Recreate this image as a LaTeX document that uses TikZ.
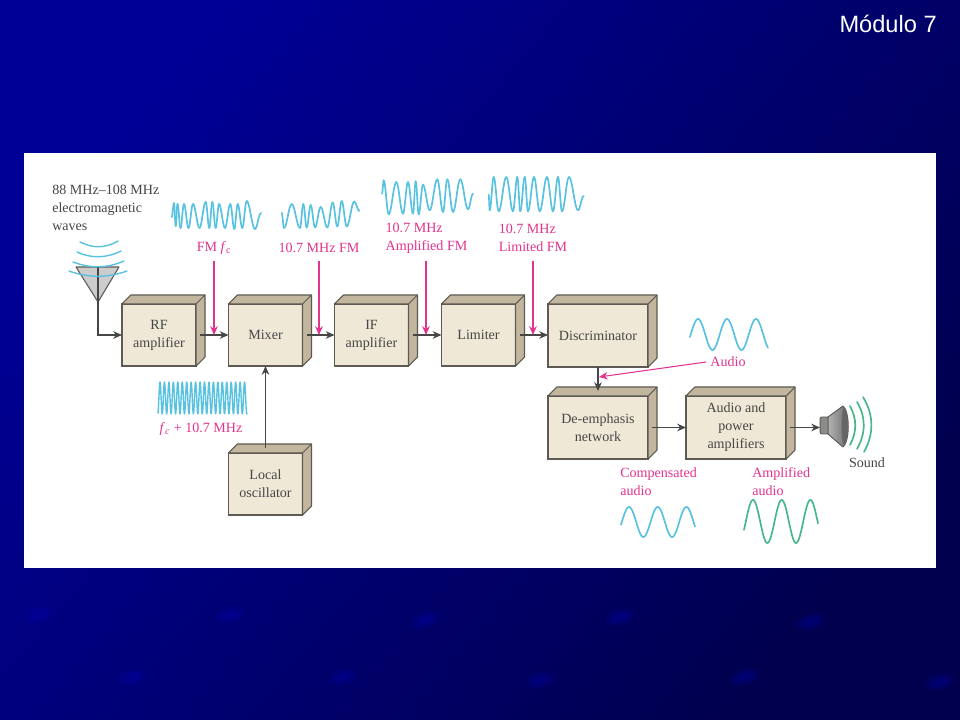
\documentclass[tikz,border=0pt]{standalone}
\usepackage{fontspec}
\setmainfont{Liberation Serif}
\newfontfamily\titlefont{Liberation Sans}
\usetikzlibrary{arrows.meta}

\definecolor{slideleft}{RGB}{0,0,150}
\definecolor{slidemid}{RGB}{0,0,135}
\definecolor{slideright}{RGB}{0,0,78}
\definecolor{blobblue}{RGB}{0,0,190}
\definecolor{blockfront}{RGB}{239,232,214}
\definecolor{blockface}{RGB}{194,182,158}
\definecolor{blockedge}{RGB}{92,90,82}
\definecolor{inkgray}{RGB}{70,70,70}
\definecolor{labelpink}{RGB}{226,52,142}
\definecolor{wavecyan}{RGB}{88,194,224}
\definecolor{wavegreen}{RGB}{72,184,140}

\tikzset{
    block/.style={draw=blockedge,fill=blockfront,line width=0.75pt,text=inkgray,align=center,
        outer sep=0pt,inner sep=0pt,minimum width=1.85cm,minimum height=1.55cm,
        font=\fontsize{10}{12.8}\selectfont},
    wideblock/.style={block,minimum width=2.5cm,minimum height=1.575cm},
    blockdepth/.style={draw=blockedge,fill=blockface,line width=0.75pt,line join=round},
    sigline/.style={draw=inkgray,line width=0.75pt,-{Stealth[length=2.2mm,width=1.9mm]}},
    pinkline/.style={draw=labelpink,line width=0.75pt,-{Stealth[length=2.2mm,width=1.9mm]}},
    pinklabel/.style={text=labelpink,align=left,inner sep=0pt,font=\fontsize{10}{12.8}\selectfont},
    graylabel/.style={text=inkgray,align=left,inner sep=0pt,font=\fontsize{10}{12.8}\selectfont},
    cyanwave/.style={draw=wavecyan,line width=1.2pt,line join=round,line cap=round},
    greenwave/.style={draw=wavegreen,line width=1.2pt,line join=round,line cap=round}
}

% top and side faces of a block
\newcommand{\blockfaces}[1]{
    \draw[blockdepth] (#1.north west) -- ++(9,-9) -- ([shift={(9,-9)}]#1.north east)
        -- ([shift={(9,-9)}]#1.south east) -- (#1.south east) -- (#1.north east) -- cycle;
    \draw[blockdepth] (#1.north east) -- ([shift={(9,-9)}]#1.north east);
}
% style, x0, x1, centre, amplitude, first peak, period
\newcommand{\tonewave}[7]{
    \draw[#1] plot[domain=#2:#3,samples=320]
        (\x,{#4-#5*cos(360/#7*(\x-#6))});
}
% start x, start y, list of peaks and troughs
\newcommand{\peakwave}[3]{
    \foreach \xb/\yb [remember=\xb as \xa (initially #1),remember=\yb as \ya (initially #2)] in {#3}
        \draw[cyanwave] (\xa,\ya) .. controls ({\xa+0.37*(\xb-\xa)},\ya) and ({\xb-0.37*(\xb-\xa)},\yb) .. (\xb,\yb);
}

\begin{document}
\begin{tikzpicture}[x=0.025cm,y=-0.025cm]
    \useasboundingbox (0,0) rectangle (960,720);

    % slide background
    \shade[left color=slideleft,middle color=slidemid,right color=slideright,shading angle=50] (0,0) rectangle (960,720);
    \foreach \blobx/\bloby in {40/615,230/615,425/620,620/617,810/622,133/677,343/677,540/680,745/677,940/682} {
        \fill[blobblue,opacity=0.12,rotate around={15:(\blobx,\bloby)}] (\blobx,\bloby) ellipse (15 and 8);
        \fill[blobblue,opacity=0.12,rotate around={15:(\blobx,\bloby)}] (\blobx,\bloby) ellipse (11 and 5.5);
        \fill[blobblue,opacity=0.12,rotate around={15:(\blobx,\bloby)}] (\blobx,\bloby) ellipse (7 and 3.5);
    }
    \fill[white] (24,153) rectangle (936,568);
    \node[text=white,anchor=east,inner sep=0pt,font=\titlefont\fontsize{16.8}{20}\selectfont] (title) at (937,24) {Módulo 7};

    % blocks
    \node[block] (rf) at (159,335) {RF\\amplifier};
    \node[block] (mixer) at (265.5,335) {Mixer};
    \node[block] (ifamp) at (371.5,335) {IF\\amplifier};
    \node[block] (limiter) at (478.5,335) {Limiter};
    \node[wideblock] (disc) at (598,335.5) {Discriminator};
    \node[wideblock] (deemph) at (598,427.5) {De-emphasis\\network};
    \node[wideblock] (audio) at (736,427.5) {Audio and\\power\\amplifiers};
    \node[block] (local) at (265.5,484) {Local\\oscillator};
    \blockfaces{rf}
    \blockfaces{mixer}
    \blockfaces{ifamp}
    \blockfaces{limiter}
    \blockfaces{disc}
    \blockfaces{deemph}
    \blockfaces{audio}
    \blockfaces{local}

    % antenna
    \coordinate (apex) at (98,302);
    \coordinate (mast) at (98,267);
    \draw[blockedge,fill=black!20,line width=0.75pt,line join=round] (76,267) -- (119,267) -- (apex) -- cycle;
    \draw[inkgray,line width=0.75pt] (mast) -- (apex);
    \draw[cyanwave,line width=1pt] (80,242) .. controls (93,248.5) and (105,248.5) .. (118,241);
    \draw[cyanwave,line width=1pt] (77,252) .. controls (91,258.5) and (106,258.5) .. (121,251);
    \draw[cyanwave,line width=1pt] (73,262) .. controls (90,268.5) and (107,268.5) .. (124,261);
    \draw[cyanwave,line width=1pt] (69,271) .. controls (88,278) and (108,278) .. (127,271);
    \node[graylabel,anchor=west] (waves) at (52,208) {88 MHz--108 MHz\\electromagnetic\\waves};

    % chain
    \draw[sigline] (apex) |- (rf.west);
    \draw[sigline] ([xshift=0.1cm]rf.east) -- (mixer.west);
    \draw[sigline] ([xshift=0.1cm]mixer.east) -- (ifamp.west);
    \draw[sigline] ([xshift=0.1cm]ifamp.east) -- (limiter.west);
    \draw[sigline] ([xshift=0.1cm]limiter.east) -- (limiter.east -| disc.west);
    \draw[sigline] (disc.south) -- ([yshift=0.125cm]deemph.north);
    \draw[sigline] ([xshift=0.1cm]deemph.east) -- (audio.west);
    \draw[sigline] ([yshift=0.125cm]local.north) -- (mixer.south);

    % signal labels
    \node[pinklabel] (fmfc) at (214,248) {FM \textit{f}\textsubscript{c}};
    \node[pinklabel] (fmten) at (319,248) {10.7 MHz FM};
    \node[pinklabel] (fmamp) at (426.5,238) {10.7 MHz\\Amplified FM};
    \node[pinklabel] (fmlim) at (533,238) {10.7 MHz\\Limited FM};
    \node[pinklabel] (lo) at (201,429) {\textit{f}\textsubscript{\textit{c}} + 10.7 MHz};
    \node[pinklabel] (aud) at (728,362) {Audio};
    \node[pinklabel,anchor=west] (comp) at (620,482) {Compensated\\audio};
    \node[pinklabel,anchor=west] (ampaud) at (752,482) {Amplified\\audio};
    \coordinate (tapa) at (214,335);
    \coordinate (tapb) at (319,335);
    \coordinate (tapc) at (426,335);
    \coordinate (tapd) at (533,335);
    \coordinate (tape) at (599,377);
    \draw[pinkline] (214,261) -- (tapa);
    \draw[pinkline] (319,261) -- (tapb);
    \draw[pinkline] (426,261) -- (tapc);
    \draw[pinkline] (533,261) -- (tapd);
    \draw[pinkline] ([xshift=-0.1cm]aud.west) -- (tape);

    % waveforms
    \peakwave{171.7}{217}{174/203,175.7/226,177.5/204,180.5/228,184/204,188.5/228,193/204,199.5/228,205.7/202,
        209.3/228,212.3/202,215.7/228,219/204,225/228,230.3/204,234.3/229,237.7/204,242.3/228,246.7/201,255/229,261/213}
    \peakwave{281.7}{213}{284/228,291.7/204,300/228,303.3/204,306.7/227.5,310.7/205,315/227.5,320.7/207,327.3/227.5,
        332.7/202.5,337.3/226.5,341.7/201,346.7/226.5,354.3/201.5,359.3/211}
    \peakwave{382}{193.7}{383.7/180.3,388.7/214.3,396.3/182,403/213.7,408/182,413/213.7,415.7/181.3,418.7/214.3,
        423/184.7,429.7/210.3,437.3/179.3,443/212,447.3/179.3,453/212,460.3/179.3,468/209.3,473/193.7}
    \peakwave{488.7}{194.7}{489.7/210.3,493.7/177,498.7/211.3,506.3/177,513/211.3,517.3/177,520.3/211.3,524.7/177,
        528/211.3,534/177,539.7/211.3,547/177,553/211.3,558/177,562/211.3,569/177,578/210.3,583.7/196}
    \tonewave{cyanwave,line width=1pt}{158}{247}{398}{16}{160}{4.45}
    \tonewave{cyanwave}{690}{768}{334.5}{15.5}{698}{29}
    \tonewave{cyanwave}{621}{695}{522}{15}{629}{28.7}
    \tonewave{greenwave}{744}{818}{521.5}{21.5}{753}{28.7}

    % speaker
    \coordinate (spk) at (820,427.5);
    \draw[sigline] ([xshift=0.1cm]audio.east) -- (spk);
    \draw[blockedge,fill=black!45,line width=0.7pt,rounded corners=1.5pt] (820,417) rectangle (829,434);
    \shade[draw=blockedge,left color=black!30,right color=black!60,line width=0.7pt,line join=round]
        (828,417) -- (843,406) .. controls (850,412) and (850,441) .. (843,447) -- (828,434) -- cycle;
    \fill[black!60] (844.5,426.5) ellipse (3 and 19);
    \draw[greenwave] (850,406) .. controls (857,419) and (857,432) .. (850,445);
    \draw[greenwave] (857,402) .. controls (866,417) and (866,433) .. (857,449);
    \draw[greenwave] (863,397) .. controls (874,415) and (874,434) .. (864,452);
    \node[graylabel] (sound) at (867,463) {Sound};
\end{tikzpicture}
\end{document}
